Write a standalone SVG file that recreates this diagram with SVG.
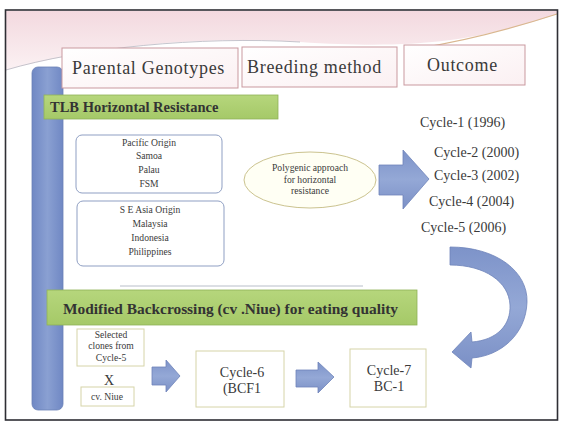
<svg xmlns="http://www.w3.org/2000/svg" width="564" height="427" viewBox="0 0 564 427">
<defs>
<linearGradient id="pink" x1="0" y1="0" x2="0" y2="1"><stop offset="0" stop-color="#f3d9df"/><stop offset="1" stop-color="#fbf1f3"/></linearGradient>
<linearGradient id="blue" x1="0" y1="0" x2="1" y2="0"><stop offset="0" stop-color="#7088c4"/><stop offset="0.5" stop-color="#8aa0d2"/><stop offset="1" stop-color="#7088c4"/></linearGradient>
<linearGradient id="arrowg" x1="0" y1="0" x2="0" y2="1"><stop offset="0" stop-color="#7d93c9"/><stop offset="0.5" stop-color="#94a8d6"/><stop offset="1" stop-color="#7b90c6"/></linearGradient>
<linearGradient id="green" x1="0" y1="0" x2="0" y2="1"><stop offset="0" stop-color="#b6d67c"/><stop offset="1" stop-color="#a5c968"/></linearGradient>
<linearGradient id="hdr" x1="0" y1="0" x2="1" y2="1"><stop offset="0" stop-color="#ffffff"/><stop offset="1" stop-color="#fbf0f2"/></linearGradient>
<style>
.t{font-family:"Liberation Serif","Times New Roman",serif;fill:#3a3a3a}
.hdr{font-size:18px;letter-spacing:0.7px}
.cyc{font-size:14px}
.sm{font-size:9.6px;text-anchor:middle}
.bar{font-family:"Liberation Serif","Times New Roman",serif;font-weight:bold;fill:#333}
.hbox{fill:url(#hdr);stroke:#c9999f;stroke-width:1}
.obox{fill:#fff;stroke:#8f9fc3;stroke-width:1}
.tbox{fill:#fff;stroke:#d6d4a8;stroke-width:1}
.arr{fill:url(#arrowg);stroke:#6e84ba;stroke-width:0.8}
</style>
</defs>
<rect x="0" y="0" width="564" height="427" fill="#fff"/>
<g id="background">
<path d="M6,11 H557 V14 C480,40 420,50 300,42 C200,36 100,45 6,70 Z" fill="url(#pink)"/>
<path d="M6,70 C80,48 200,36 300,42" fill="none" stroke="#b8b8c2" stroke-width="0.8"/>
<path d="M420,48 C470,40 520,26 557,14" fill="none" stroke="#d9b78f" stroke-width="1.2"/>
<rect x="5.5" y="10" width="552" height="410" fill="none" stroke="#2e2e34" stroke-width="1.6"/>
</g>
<g id="sidebar"><rect x="32" y="67" width="31" height="343" rx="6" fill="url(#blue)" stroke="#6a80b6" stroke-width="0.8"/></g>
<g id="hdr-parental"><rect class="hbox" x="62" y="48" width="176" height="40"/><text class="t hdr" x="72" y="74">Parental Genotypes</text></g>
<g id="hdr-breeding"><rect class="hbox" x="242" y="47" width="155" height="40"/><text class="t hdr" x="247" y="73">Breeding method</text></g>
<g id="hdr-outcome"><rect class="hbox" x="404" y="45" width="121" height="40"/><text class="t hdr" x="427" y="71">Outcome</text></g>
<g id="bar-tlb"><rect x="44" y="95" width="234" height="24" fill="url(#green)" stroke="#8fb257" stroke-width="0.8"/><text class="bar" x="50" y="112" font-size="14.5">TLB Horizontal Resistance</text></g>
<g id="pacific"><rect class="obox" x="76" y="135" width="146" height="58" rx="6"/>
<text class="t sm" x="149" y="146">Pacific Origin</text><text class="t sm" x="149" y="159">Samoa</text><text class="t sm" x="149" y="173">Palau</text><text class="t sm" x="149" y="187">FSM</text></g>
<g id="seasia"><rect class="obox" x="77" y="201" width="147" height="65" rx="6"/>
<text class="t sm" x="150" y="213">S E Asia Origin</text><text class="t sm" x="150" y="227">Malaysia</text><text class="t sm" x="150" y="241">Indonesia</text><text class="t sm" x="150" y="255">Philippines</text></g>
<g id="polygenic"><ellipse cx="310" cy="180" rx="66" ry="28" fill="#fffff4" stroke="#cbc38f" stroke-width="1"/>
<text class="t sm" x="310" y="171" font-size="9.4">Polygenic approach</text><text class="t sm" x="310" y="183" font-size="9.4">for horizontal</text><text class="t sm" x="310" y="194" font-size="9.4">resistance</text></g>
<g id="cycles">
<text class="t cyc" x="420" y="127">Cycle-1  (1996)</text>
<text class="t cyc" x="434" y="157">Cycle-2 (2000)</text>
<text class="t cyc" x="434" y="180">Cycle-3 (2002)</text>
<text class="t cyc" x="429" y="206">Cycle-4 (2004)</text>
<text class="t cyc" x="421" y="232">Cycle-5 (2006)</text>
</g>
<g id="divider"><line x1="120" y1="286" x2="363" y2="286" stroke="#a6adbb" stroke-width="0.8"/></g>
<g id="bar-backcross"><rect x="47" y="290" width="370" height="35" fill="url(#green)" stroke="#8fb257" stroke-width="0.8"/><text class="bar" x="63" y="314" font-size="15.4">Modified Backcrossing (cv .Niue) for eating quality</text></g>
<g id="selected"><rect class="tbox" x="77" y="329" width="67" height="37"/>
<text class="t sm" x="111" y="338" font-size="9.4">Selected</text><text class="t sm" x="111" y="349" font-size="9.4">clones from</text><text class="t sm" x="111" y="361" font-size="9.4">Cycle-5</text></g>
<g id="cross"><text class="t" x="109" y="385" font-size="14" text-anchor="middle">X</text></g>
<g id="niue"><rect class="tbox" x="81" y="387" width="53" height="19"/><text class="t sm" x="107" y="400" font-size="10.5">cv. Niue</text></g>
<g id="cycle6"><rect class="tbox" x="196" y="351" width="88" height="56"/><text class="t cyc" x="242" y="377" text-anchor="middle">Cycle-6</text><text class="t cyc" x="242" y="393" text-anchor="middle">(BCF1</text></g>
<g id="cycle7"><rect class="tbox" x="350" y="349" width="76" height="58"/><text class="t cyc" x="389" y="375" text-anchor="middle">Cycle-7</text><text class="t cyc" x="389" y="391" text-anchor="middle">BC-1</text></g>
<g id="connectors">
<polygon class="arr" points="379,165 403,165 403,150 429,179 403,209 403,195 379,195"/>
<polygon class="arr" points="152,367 166,367 166,360 180,376 166,392 166,385 152,385"/>
<polygon class="arr" points="296,370 318,370 318,362 334,377 318,393 318,387 296,387"/>
<path class="arr" d="M450,247 C497,247 528,272 527,302 C526,335 500,356 472,358 L471,368 L452,352 L471,332 L472,342 C497,340 511,325 510,305 C509,282 485,265 450,265 Z"/>
</g>
</svg>
